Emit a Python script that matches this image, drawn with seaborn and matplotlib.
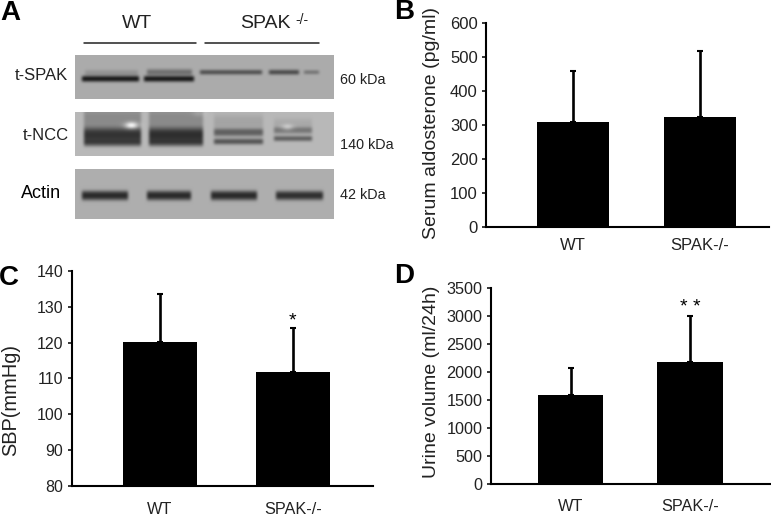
import numpy as np
import pandas as pd
import seaborn as sns
from matplotlib import pyplot as plt

groups = ['WT', 'SPAK-/-']

aldosterone = [310, 324.5]
aldosterone_top = [458, 518]
aldosterone_ticks = [0, 100, 200, 300, 400, 500, 600]

sbp = [120.2, 111.7]
sbp_top = [133.5, 124]
sbp_ticks = [80, 90, 100, 110, 120, 130, 140]

urine = [1586, 2188]
urine_top = [2070, 3000]
urine_ticks = [0, 500, 1000, 1500, 2000, 2500, 3000, 3500]

# blot bands: x start, x end, y centre, half height, darkness (pixels inside each strip)
spak_bands = [(5, 65, 23.3, 2.8, 0.60), (67, 120, 23.3, 2.8, 0.60), (8, 64, 17.5, 3.0, 0.10),
              (70, 118, 16.7, 3.0, 0.24), (123, 188, 16.7, 2.2, 0.38), (192, 225, 16.7, 2.3, 0.40),
              (227, 245, 16.7, 1.8, 0.24)]
ncc_bands = [(7, 67, 23, 8.0, 0.52), (72, 129, 23, 8.0, 0.54), (7, 67, 31, 3.0, 0.24), (72, 129, 31, 3.0, 0.24),
             (7, 67, 6, 10, 0.18), (72, 129, 6, 10, 0.18),
             (137, 189, 20, 3.8, 0.34), (137, 189, 29, 2.8, 0.40), (197, 238, 18, 3.2, 0.24),
             (197, 238, 26, 2.5, 0.36), (137, 189, 10, 8, 0.08), (197, 238, 12, 6, 0.06)]
actin_bands = [(5, 54, 26, 4.6, 0.52), (70, 117, 26, 4.6, 0.52), (134, 183, 26, 4.6, 0.52), (199, 249, 26, 4.4, 0.50)]
ncc_spots = [(56, 13, 4.5, 2.2, 0.50), (123, 1, 4, 2, 0.08), (212, 15, 4, 2, 0.22)]

W, H = 771, 517
FONT = 'Liberation Sans'

sns.set_theme(style='white')
plt.rcParams['font.family'] = FONT
fig = plt.figure(figsize=(W / 100, H / 100), dpi=100, facecolor='white')


def px_axes(left, top, right, bottom):
    return fig.add_axes([left / W, 1 - bottom / H, (right - left) / W, (bottom - top) / H])


def px_text(x, y, s, **kw):
    kw.setdefault('ha', 'center')
    kw.setdefault('va', 'center')
    kw.setdefault('color', '#222222')
    fig.text(x / W, 1 - y / H, s, **kw)


def bar_panel(box, values, tops, ticks, xlim, width, pad, tick_size, label_size):
    ax = px_axes(*box)
    df = pd.DataFrame({'group': groups, 'value': values})
    sns.barplot(data=df, x='group', y='value', color='black', saturation=1, width=width, linewidth=0, ax=ax)
    up = np.array(tops) - np.array(values)
    ax.errorbar([0, 1], values, yerr=[np.zeros(2), up], fmt='none', ecolor='black',
                elinewidth=1.9, capsize=2, capthick=1.5)
    ax.set_xlim(*xlim)
    ax.set_ylim(ticks[0], ticks[-1])
    ax.set_yticks(ticks)
    ax.set_xlabel('')
    ax.set_ylabel('')
    sns.despine(ax=ax)
    for side in ['left', 'bottom']:
        ax.spines[side].set_linewidth(1.5)
        ax.spines[side].set_color('black')
    ax.tick_params(axis='y', left=True, length=3, width=1.3, pad=3, labelsize=tick_size, labelcolor='#222222')
    ax.tick_params(axis='x', bottom=False, length=0, pad=pad, labelsize=label_size, labelcolor='#222222')
    return ax


def soften(img):
    kernel = np.array([1, 2, 3, 2, 1]) / 9
    padded = np.pad(img, 2, mode='edge')
    padded = np.apply_along_axis(lambda r: np.convolve(r, kernel, mode='same'), 1, padded)
    padded = np.apply_along_axis(lambda c: np.convolve(c, kernel, mode='same'), 0, padded)
    return padded[2:-2, 2:-2]


def blot_strip(box, base, bands, spots=()):
    left, top, right, bottom = box
    h, w = bottom - top, right - left
    yy, xx = np.mgrid[0:h, 0:w]
    img = np.full((h, w), base, dtype=float)
    for x0, x1, yc, half, dark in bands:
        across = np.clip((xx - x0) / 3, 0, 1) * np.clip((x1 - xx) / 3, 0, 1)
        img -= dark * across * np.exp(-np.abs((yy - yc) / half) ** 3)
    for xc, yc, sx, sy, light in spots:
        img += light * np.exp(-((xx - xc) / sx) ** 2 / 2 - ((yy - yc) / sy) ** 2 / 2)
    ax = px_axes(*box)
    sns.heatmap(soften(np.clip(img, 0.05, 1)), cmap='gray', vmin=0, vmax=1, cbar=False,
                xticklabels=False, yticklabels=False, ax=ax)
    ax.set_xlabel('')
    ax.set_ylabel('')


# panel A
blot_strip((75, 55, 334, 99), 0.67, spak_bands)
blot_strip((75, 112, 334, 156), 0.72, ncc_bands, ncc_spots)
blot_strip((75, 169, 334, 219), 0.68, actin_bands)
fig.add_artist(plt.Line2D([84 / W, 195.5 / W], [1 - 42.5 / H] * 2, color='#222222', lw=1.1))
fig.add_artist(plt.Line2D([205 / W, 319 / W], [1 - 42.5 / H] * 2, color='#222222', lw=1.1))
px_text(137, 23, 'WT', fontsize=14)
px_text(265, 24, 'SPAK', fontsize=14)
px_text(302, 20, '-/-', fontsize=10)
px_text(41, 75, 't-SPAK', fontsize=12)
px_text(45.5, 136, 't-NCC', fontsize=12)
px_text(41, 193, 'Actin', fontsize=13, color='black')
px_text(363, 80, '60 kDa', fontsize=10.4)
px_text(367, 145, '140 kDa', fontsize=10.4)
px_text(363, 195, '42 kDa', fontsize=10.4)

# panels B, C, D
bar_panel((486, 23.3, 769, 226.7), aldosterone, aldosterone_top, aldosterone_ticks, (-0.685, 1.543), 0.57, 8, 12, 12)
bar_panel((71.7, 271, 372.7, 485.7), sbp, sbp_top, sbp_ticks, (-0.664, 1.60), 0.556, 11.5, 11.5, 11.7)
bar_panel((490.7, 288.3, 770, 484), urine, urine_top, urine_ticks, (-0.67, 1.67), 0.55, 10.5, 11.7, 11.7)

px_text(432, 123, 'Serum aldosterone (pg/ml)', rotation=90, fontsize=14)
px_text(11, 400, 'SBP(mmHg)', rotation=90, fontsize=14.4)
px_text(431, 382, 'Urine volume (ml/24h)', rotation=90, fontsize=14)

px_text(292, 321, '*', fontsize=14, color='black')
px_text(690, 307, '* *', fontsize=14, color='black')

for x, y, letter in [(10, 20, 'A'), (404.5, 19, 'B'), (9, 285, 'C'), (404.5, 283, 'D')]:
    px_text(x, y, letter, fontsize=20, fontweight='bold', color='black', va='baseline')

fig.savefig('out.png', dpi=100)
